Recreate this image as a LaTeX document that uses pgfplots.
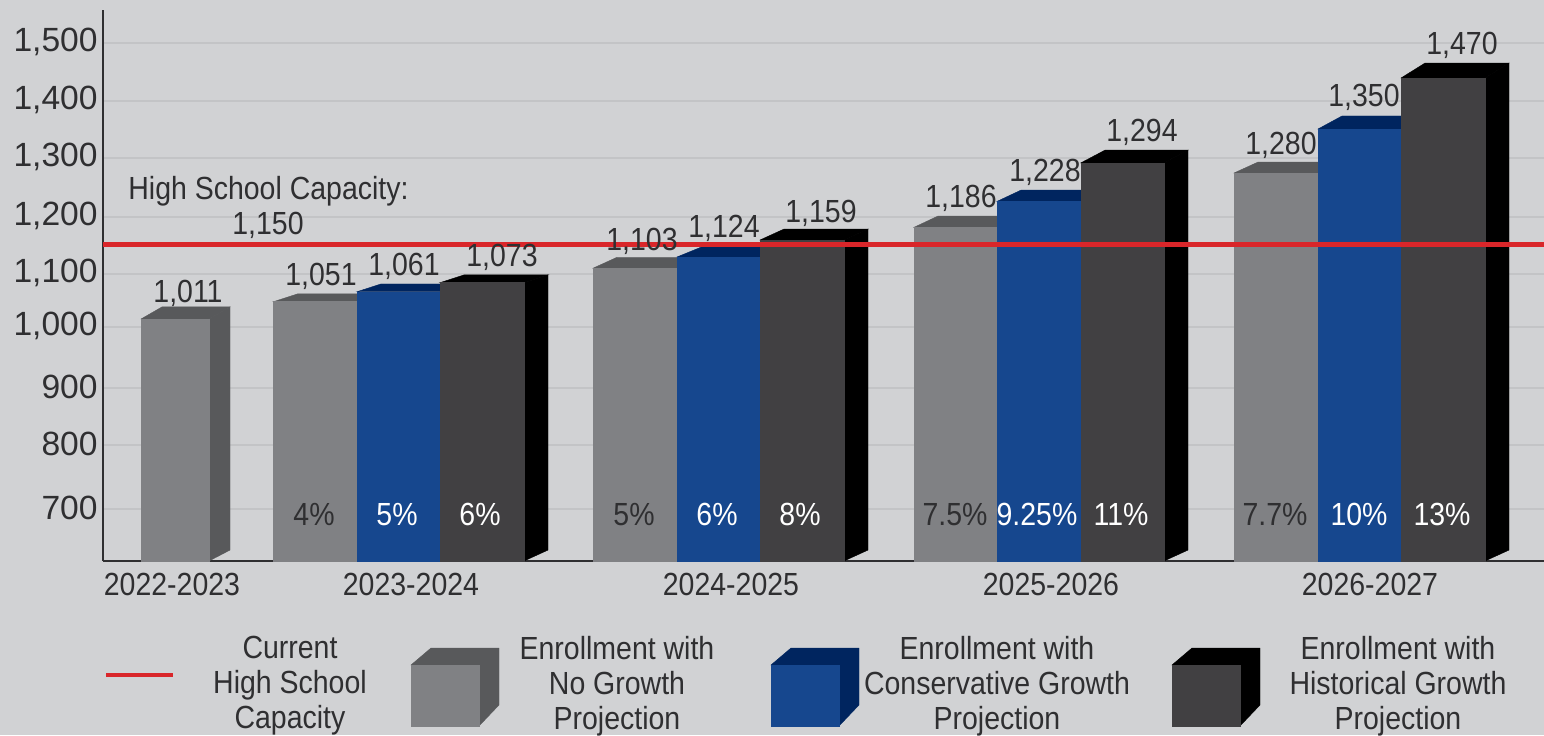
\documentclass[border=0pt]{standalone}
\usepackage{fontspec}
\setmainfont{Liberation Sans}
\newfontfamily\cond[FakeStretch=0.89]{Liberation Sans}
\usepackage{pgfplots}
\pgfplotsset{compat=1.18}
\definecolor{bg}{HTML}{D1D2D4}
\definecolor{gridc}{HTML}{C3C4C6}
\definecolor{ink}{HTML}{2F2F31}
\definecolor{greyF}{HTML}{808184}
\definecolor{greyS}{HTML}{58595B}
\definecolor{blueF}{HTML}{16478E}
\definecolor{blueS}{HTML}{00255F}
\definecolor{darkF}{HTML}{414042}
\definecolor{darkS}{HTML}{000000}
\definecolor{redl}{HTML}{D9262A}
\def\ybase{600.7}
\def\ydepth{19}
% left, right, height of front face, depth in x, colours (front, faces), depth of top face
\newcommand\drawbar[7]{%
  \pgfmathsetmacro\xb{#2+#4}%
  \pgfmathsetmacro\xc{#1+#4}%
  \pgfmathsetmacro\tb{#3+#7}%
  \pgfmathsetmacro\bb{\ybase+\ydepth}%
  \addplot[fill=#6,draw=#6,line width=.2pt,mark=none] coordinates {(#2,\ybase) (\xb,\bb) (\xb,\tb) (#2,#3)} --cycle;
  \addplot[fill=#6,draw=#6,line width=.2pt,mark=none] coordinates {(#1,#3) (\xc,\tb) (\xb,\tb) (#2,#3)} --cycle;
  \addplot[fill=#5,draw=#5,line width=.2pt,mark=none] coordinates {(#1,\ybase) (#2,\ybase) (#2,#3) (#1,#3)} --cycle;
}
\newcommand\legendcube[3]{%
  \pgfmathsetmacro\xa{#1+68}%
  \pgfmathsetmacro\xb{#1+88}%
  \pgfmathsetmacro\xc{#1+20}%
  \addplot[fill=#3,draw=#3,line width=.2pt,mark=none] coordinates {(#1,665) (\xc,648) (\xb,648) (\xb,705) (\xa,726) (\xa,665)} --cycle;
  \addplot[fill=#2,draw=#2,line width=.2pt,mark=none] coordinates {(#1,665) (\xa,665) (\xa,726) (#1,726)} --cycle;
}
\begin{document}
\begin{tikzpicture}[x=1pt,y=1pt]
\fill[bg] (0,0) rectangle (772,367.5);
\path[use as bounding box] (0,0) rectangle (772,367.5);
\begin{axis}[
  at={(51.5pt,87pt)}, anchor=south west,
  scale only axis, width=720.5pt, height=275.5pt,
  xmin=103, xmax=1544, ymin=600.7, ymax=1557.3,
  axis x line=bottom, axis y line=left,
  axis line style={-, draw=ink, line width=1.1pt},
  clip=false,
  ymajorgrids, grid style={gridc, line width=.8pt},
  ytick={691,802,901,1007,1099,1198,1300,1399,1500},
  yticklabels={700,800,900,{1,000},{1,100},{1,200},{1,300},{1,400},{1,500}},
  yticklabel style={font=\fontsize{16.8}{17}\selectfont, text=ink, yshift=0.6pt, inner sep=1pt, xshift=-1.5pt},
  xtick={172,411,731,1051,1370},
  xticklabels={2022-2023,2023-2024,2024-2025,2025-2026,2026-2027},
  xticklabel style={font=\cond\fontsize{16}{17}\selectfont, text=ink, inner sep=0pt, yshift=-5.8pt},
  major tick length=0pt,
  every node near coord/.style={anchor=center, inner sep=0pt, font=\cond\fontsize{16}{17}\selectfont, text=ink},
]
% 2022-2023
\drawbar{141}{209}{1020.8}{21}{greyF}{greyS}{21}
% 2023-2024
\drawbar{273.5}{357}{1050.9}{24}{greyF}{greyS}{13.5}
\drawbar{357}{440}{1068.2}{24}{blueF}{blueS}{13.5}
\drawbar{440}{524}{1083.9}{24}{darkF}{darkS}{13.5}
% 2024-2025
\drawbar{593}{677}{1109}{24}{greyF}{greyS}{19}
\drawbar{677}{760}{1128.5}{24}{blueF}{blueS}{17}
\drawbar{760}{844}{1158}{24}{darkF}{darkS}{19}
% 2025-2026
\drawbar{914}{997}{1180}{24}{greyF}{greyS}{19.6}
\drawbar{997}{1081}{1225}{24}{blueF}{blueS}{19.6}
\drawbar{1081}{1164}{1292}{24}{darkF}{darkS}{22}
% 2026-2027
\drawbar{1234}{1318}{1274.3}{24}{greyF}{greyS}{19}
\drawbar{1318}{1401}{1350.7}{24}{blueF}{blueS}{22.6}
\drawbar{1401}{1485}{1439.2}{24}{darkF}{darkS}{26}
% capacity line
\addplot[redl, line width=2.5pt, mark=none] coordinates {(103,1150) (1544,1150)};
% value labels
\addplot[only marks, mark=none, nodes near coords, point meta=explicit symbolic] table[meta=label] {
x y label
188 1066 1,011
321 1094 1,051
404 1112 1,061
502 1127 1,073
642 1155 1,103
724 1178 1,124
821 1205 1,159
961 1230 1,186
1045 1275 1,228
1142 1344 1,294
1281 1322 1,280
1364 1405 1,350
1462 1496 1,470
268 1183 1,150
};
% percentage labels
\addplot[only marks, mark=none, nodes near coords={\pgfplotspointmeta\%}, point meta=explicit symbolic] table[meta=p] {
x y p
314 680.6 4
634 680.6 5
955 680.6 7.5
1275 680.6 7.7
};
\addplot[only marks, mark=none, nodes near coords={\pgfplotspointmeta\%}, point meta=explicit symbolic, every node near coord/.append style={text=white}] table[meta=p] {
x y p
397 680.6 5
480 680.6 6
717 680.6 6
800 680.6 8
1037 680.6 9.25
1121 680.6 11
1359 680.6 10
1442 680.6 13
};
\node[anchor=west, inner sep=0pt, font=\cond\fontsize{16}{17}\selectfont, text=ink] at (axis cs:128,1242) {High School Capacity:};
\end{axis}
\begin{axis}[
  at={(0pt,0pt)}, anchor=south west,
  scale only axis, width=772pt, height=367.5pt,
  xmin=0, xmax=1544, ymin=0, ymax=735, y dir=reverse,
  hide axis, clip=false,
]
\addplot[redl, line width=1.8pt, mark=none] coordinates {(106,675) (173,675)};
\legendcube{411}{greyF}{greyS}
\legendcube{771}{blueF}{blueS}
\legendcube{1172}{darkF}{darkS}
\tikzset{leg/.style={align=center, inner sep=0pt, text=ink, font=\cond\fontsize{16}{17.5}\selectfont}}
\node[leg] at (axis cs:290,686) {Current\\High School\\Capacity};
\node[leg] at (axis cs:617,686) {Enrollment with\\No Growth\\Projection};
\node[leg] at (axis cs:997,686) {Enrollment with\\Conservative Growth\\Projection};
\node[leg] at (axis cs:1398,686) {Enrollment with\\Historical Growth\\Projection};
\end{axis}
\end{tikzpicture}
\end{document}
